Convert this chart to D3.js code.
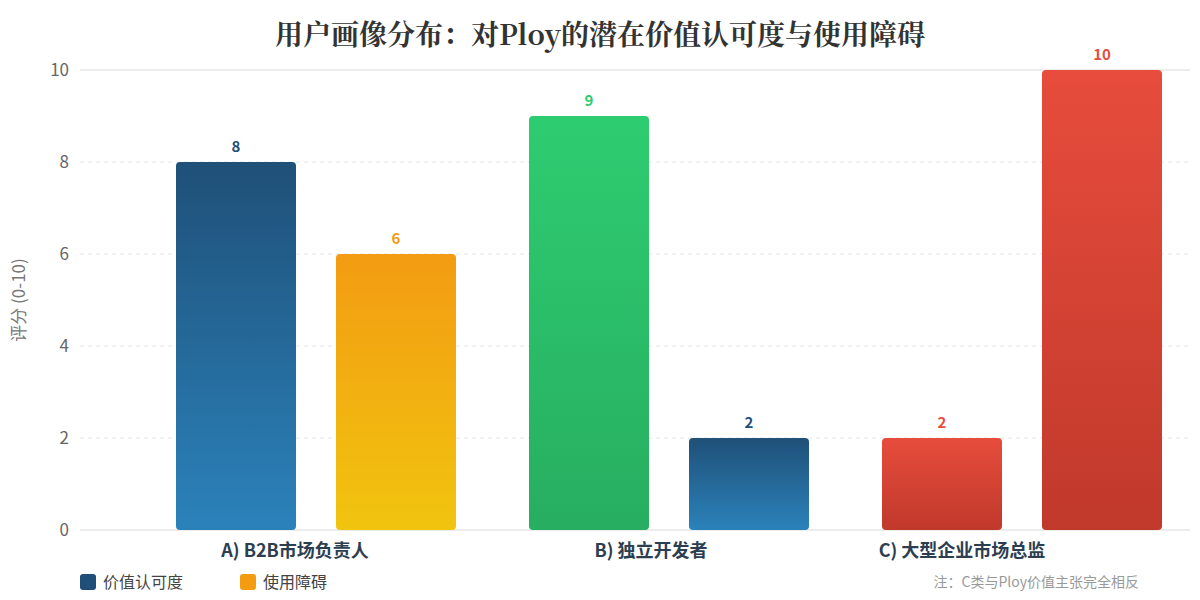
<!DOCTYPE html>
<html lang="zh">
<head>
<meta charset="utf-8">
<title>用户画像分布</title>
<script src="https://cdn.jsdelivr.net/npm/d3@7"></script>
<style>
  body { margin: 0; background: #fff; font-family: "Noto Sans CJK SC", "Noto Sans", sans-serif; }
  svg { display: block; }
</style>
</head>
<body>
<svg id="chart" width="1200" height="600"></svg>
<script>
const categories = ["A) B2B市场负责人", "B) 独立开发者", "C) 大型企业市场总监"];
const seriesNames = ["价值认可度", "使用障碍"];
const valueScores = [8, 9, 2];
const barrierScores = [6, 2, 10];
// colour key of each bar, per group
const valueTone = ["blue", "green", "red"];
const barrierTone = ["orange", "blue", "red"];
const yTicks = [0, 2, 4, 6, 8, 10];

const tones = {
  blue:   { top: "#1f5078", bottom: "#2b82bb", label: "#1f4e79" },
  orange: { top: "#f39c12", bottom: "#f1c40f", label: "#f39c12" },
  green:  { top: "#2ecc71", bottom: "#27ae60", label: "#2ecc71" },
  red:    { top: "#e74c3c", bottom: "#c0392b", label: "#e74c3c" }
};
// the category labels sit a little left of their bar groups in the original
const labelShift = [-21, -18, -60];

const svg = d3.select("#chart");
const W = 1200;

const y = d3.scaleLinear().domain([0, 10]).range([530, 70]);
const x0 = d3.scaleBand().domain(categories).range([139.5, 1198.5]).paddingInner(0.2068).paddingOuter(0.1034);
const x1 = d3.scaleBand().domain(seriesNames).range([0, x0.bandwidth()]).paddingInner(0.25);

const defs = svg.append("defs");
Object.entries(tones).forEach(([k, t]) => {
  const g = defs.append("linearGradient").attr("id", "g-" + k).attr("x1", 0).attr("y1", 0).attr("x2", 0).attr("y2", 1);
  g.append("stop").attr("offset", "0%").attr("stop-color", t.top);
  g.append("stop").attr("offset", "100%").attr("stop-color", t.bottom);
});

// title
svg.append("text").attr("x", W / 2).attr("y", 45).attr("text-anchor", "middle")
  .attr("font-family", "\"Noto Serif CJK SC\", \"Noto Serif\", \"DejaVu Serif\", serif")
  .attr("font-weight", "bold").attr("font-size", 28).attr("fill", "#333")
  .text("用户画像分布：对Ploy的潜在价值认可度与使用障碍");

// grid
svg.append("g").selectAll("line").data(yTicks).enter().append("line")
  .attr("x1", 80).attr("x2", 1190)
  .attr("y1", d => y(d)).attr("y2", d => y(d))
  .attr("stroke", "#e6e6e6")
  .attr("stroke-width", d => (d === 0 || d === 10) ? 1.5 : 1)
  .attr("stroke-dasharray", d => (d === 0 || d === 10) ? null : "4,4");

// y axis
const yAxis = svg.append("g").attr("transform", "translate(80,0)")
  .call(d3.axisLeft(y).tickValues(yTicks).tickSize(0).tickPadding(11));
yAxis.select(".domain").remove();
yAxis.selectAll("text").attr("font-size", 17).attr("fill", "#666").attr("font-family", "\"Noto Sans CJK SC\", sans-serif");

svg.append("text").attr("transform", "translate(25,300) rotate(-90)").attr("text-anchor", "middle")
  .attr("font-size", 17).attr("fill", "#777").text("评分 (0-10)");

// bars
const rows = categories.map((c, i) => ({
  cat: c,
  bars: [
    { s: seriesNames[0], v: valueScores[i], tone: valueTone[i] },
    { s: seriesNames[1], v: barrierScores[i], tone: barrierTone[i] }
  ]
}));

const groups = svg.selectAll("g.grp").data(rows).enter().append("g").attr("class", "grp")
  .attr("transform", d => `translate(${x0(d.cat)},0)`);

groups.selectAll("rect").data(d => d.bars).enter().append("rect")
  .attr("x", d => x1(d.s)).attr("width", x1.bandwidth())
  .attr("y", d => y(d.v)).attr("height", d => y(0) - y(d.v))
  .attr("rx", 4).attr("ry", 4)
  .attr("fill", d => `url(#g-${d.tone})`);

groups.selectAll("text.val").data(d => d.bars).enter().append("text").attr("class", "val")
  .attr("x", d => x1(d.s) + x1.bandwidth() / 2).attr("y", d => y(d.v) - 10)
  .attr("text-anchor", "middle").attr("font-size", 15).attr("font-weight", "bold")
  .attr("fill", d => tones[d.tone].label).text(d => d.v);

// x axis labels
const xAxis = svg.append("g").attr("transform", "translate(0,530)")
  .call(d3.axisBottom(x0).tickSize(0).tickPadding(14));
xAxis.select(".domain").remove();
xAxis.selectAll("text").attr("font-size", 18).attr("font-weight", "bold").attr("fill", "#2c3e50")
  .attr("font-family", "\"Noto Sans CJK SC\", sans-serif")
  .attr("dx", (d, i) => labelShift[i]);

// legend
const legendColors = [tones.blue.label, tones.orange.label];
const lg = svg.selectAll("g.lg").data(seriesNames).enter().append("g").attr("class", "lg")
  .attr("transform", (d, i) => `translate(${80 + i * 160},574)`);
lg.append("rect").attr("width", 16).attr("height", 16).attr("rx", 3).attr("fill", (d, i) => legendColors[i]);
lg.append("text").attr("x", 23).attr("y", 14).attr("font-size", 16).attr("fill", "#444").text(d => d);

// note
svg.append("text").attr("x", 1139).attr("y", 587).attr("text-anchor", "end")
  .attr("font-size", 14).attr("fill", "#999").text("注：C类与Ploy价值主张完全相反");
</script>
</body>
</html>
